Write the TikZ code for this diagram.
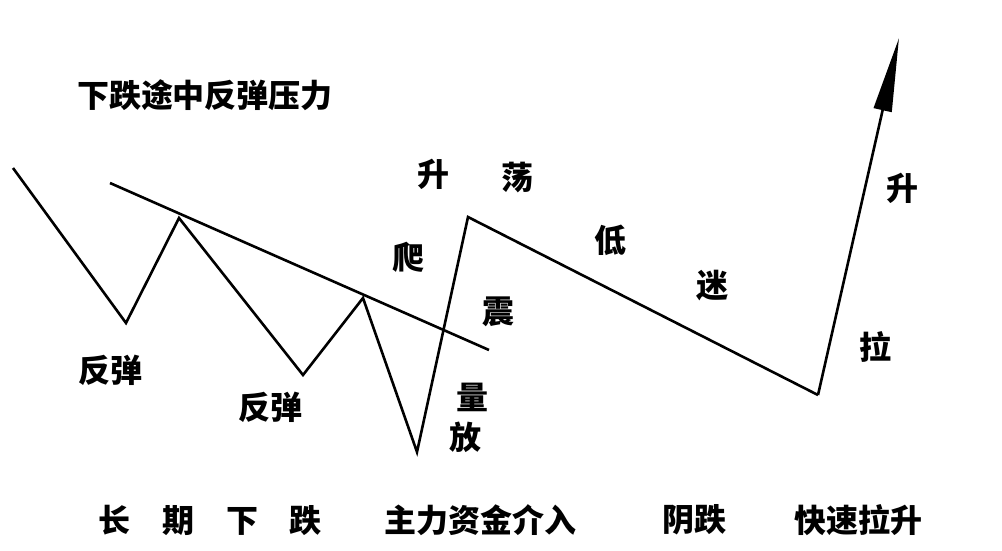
\documentclass[tikz,border=0pt]{standalone}
\usepackage{fontspec}
\newfontfamily\cjk{Noto Sans CJK SC}
\usetikzlibrary{arrows.meta}
\begin{document}
\begin{tikzpicture}[x=1pt,y=-1pt,
  lbl/.style={font=\cjk\bfseries\fontsize{32}{32}\selectfont,inner sep=0pt},
  wave/.style={line width=2.6pt,line join=miter}]
\useasboundingbox (0,0) rectangle (1002,550);
% price path
\coordinate (p0) at (13,168);
\coordinate (t1) at (126,323);
\coordinate (h1) at (179,218);
\coordinate (t2) at (303,375);
\coordinate (h2) at (363,298);
\coordinate (t3) at (417,452);
\coordinate (h3) at (468,217);
\coordinate (t4) at (818,395);
\coordinate (tip) at (899,38);
% pressure line
\coordinate (r0) at (110,183);
\coordinate (r1) at (489,350);

\draw[wave] (p0) -- (t1) -- (h1) -- (t2) -- (h2) -- (t3) -- (h3) -- (t4);
\draw[wave,-{Triangle[length=74pt,width=18pt]}] (t4) -- (tip);
\draw[wave] (r0) -- (r1);

% labels
\node[lbl] (title) at (205,95) {下跌途中反弹压力};
\node[lbl] (rb1) at (110,370) {反弹};
\node[lbl] (rb2) at (270,407) {反弹};
% up-and-down part
\node[lbl] (sheng) at (433,174) {升};
\node[lbl] (dang) at (517,178) {荡};
\node[lbl] (pa) at (408,257) {爬};
\node[lbl] (zhen) at (498,312) {震};
\node[lbl] (liang) at (472,397) {量};
\node[lbl] (fang) at (465,437) {放};
\node[lbl] (di) at (610,240) {低};
\node[lbl] (mi) at (712,286) {迷};
% fast rise
\node[lbl] (sheng2) at (902,188) {升};
\node[lbl] (la) at (875,347) {拉};

% bottom row
\node[lbl] (down) at (210,520) {长\hspace{32pt}期\hspace{32pt}下\hspace{32pt}跌};
\node[lbl] (enter) at (480,520) {主力资金介入};
\node[lbl] (yindie) at (694,520) {阴跌};
\node[lbl] (fast) at (858,520) {快速拉升};
\end{tikzpicture}
\end{document}
